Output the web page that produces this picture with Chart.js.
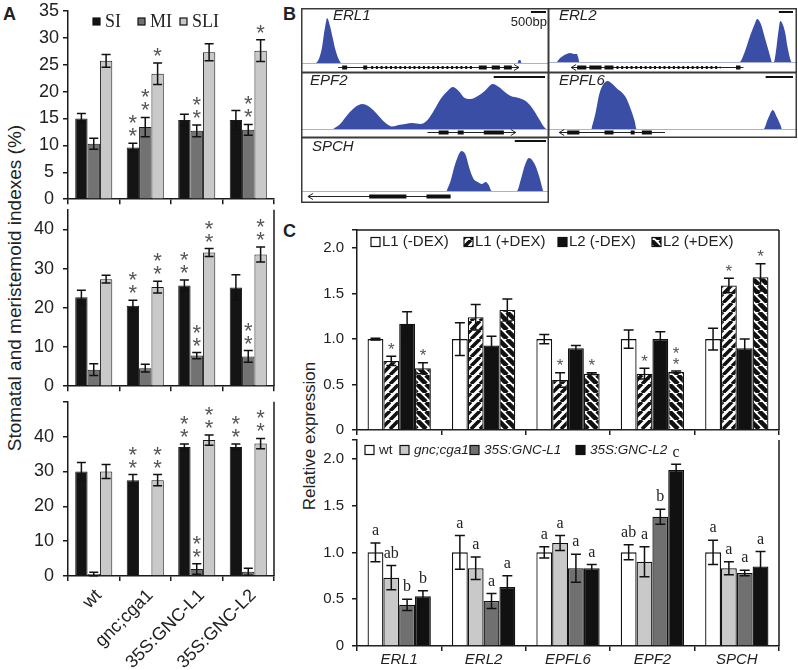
<!DOCTYPE html>
<html>
<head>
<meta charset="utf-8">
<script src="https://cdn.jsdelivr.net/npm/chart.js@4.4.0/dist/chart.umd.min.js"></script>
<style>
  body { margin: 0; background: #fff; }
  #fig { position: relative; width: 798px; height: 670px; overflow: hidden; background: #fff;
         font-family: 'Liberation Sans', Arial, sans-serif; color: #222; }
  #fig canvas { position: absolute; }
  .plab { position: absolute; font-weight: bold; font-size: 18px; line-height: 18px; }
  .ytitle { position: absolute; white-space: nowrap; transform: translate(-50%, -50%) rotate(-90deg); }
</style>
</head>
<body>
<div id="fig">
  <div class="plab" style="left:3px; top:5px;">A</div>
  <div class="plab" style="left:283px; top:5px;">B</div>
  <div class="plab" style="left:283px; top:222px;">C</div>
  <div class="ytitle" style="left:15px; top:288px; font-size:19px;">Stomatal and meristemoid indexes (%)</div>
  <div class="ytitle" style="left:310px; top:436px; font-size:17px;">Relative expression</div>
</div>
<script>
// ---- panel A : stomatal / meristemoid / stomatal lineage indexes
const genotypes = ['wt', 'gnc;cga1', '35S:GNC-L1', '35S:GNC-L2'];

const siTop = [15.0, 9.6, 14.7, 14.7];
const siTopErr = [0.9, 0.8, 1.1, 1.8];
const siTopSig = ['', '**', '', ''];
const miTop = [10.3, 13.4, 12.7, 12.9];
const miTopErr = [1.0, 1.8, 1.1, 1.0];
const miTopSig = ['', '**', '**', '**'];
const sliTop = [25.7, 23.3, 27.3, 27.6];
const sliTopErr = [1.2, 2.0, 1.6, 2.0];
const sliTopSig = ['', '*', '', '*'];

const siMid = [22.7, 20.5, 25.7, 25.2];
const siMidErr = [1.8, 1.4, 1.4, 3.2];
const siMidSig = ['', '**', '**', ''];
const miMid = [4.2, 4.6, 7.8, 7.6];
const miMidErr = [1.5, 1.0, 0.8, 1.5];
const miMidSig = ['', '', '**', '**'];
const sliMid = [27.3, 25.3, 34.1, 33.6];
const sliMidErr = [1.0, 1.5, 1.0, 1.9];
const sliMidSig = ['', '**', '**', '**'];

const siBot = [30.0, 27.5, 37.0, 37.0];
const siBotErr = [2.6, 1.6, 0.9, 0.9];
const siBotSig = ['', '**', '**', '**'];
const miBot = [0.6, 0, 2.0, 1.2];
const miBotErr = [0.5, 0, 1.5, 1.0];
const miBotSig = ['', '', '**', ''];
const sliBot = [30.0, 27.5, 39.0, 38.0];
const sliBotErr = [2.0, 1.6, 1.5, 1.5];
const sliBotSig = ['', '**', '**', '**'];

// ---- panel C : qRT-PCR
const genesC = ['ERL1', 'ERL2', 'EPFL6', 'EPF2', 'SPCH'];
const l1Minus = [1.00, 1.00, 1.00, 1.00, 1.00];
const l1MinusErr = [0.01, 0.18, 0.05, 0.10, 0.12];
const l1Plus = [0.76, 1.24, 0.55, 0.62, 1.59];
const l1PlusErr = [0.05, 0.14, 0.08, 0.06, 0.08];
const l1PlusSig = ['*', '', '*', '*', '*'];
const l2Minus = [1.17, 0.93, 0.90, 1.00, 0.90];
const l2MinusErr = [0.13, 0.10, 0.03, 0.08, 0.10];
const l2Plus = [0.68, 1.32, 0.62, 0.64, 1.68];
const l2PlusErr = [0.06, 0.12, 0.01, 0.01, 0.15];
const l2PlusSig = ['*', '', '*', '**', '*'];

const wtC = [1.00, 1.00, 1.00, 1.00, 1.00];
const wtCErr = [0.10, 0.18, 0.06, 0.08, 0.13];
const wtCLet = ['a', 'a', 'a', 'ab', 'a'];
const gncC = [0.73, 0.83, 1.10, 0.90, 0.83];
const gncCErr = [0.13, 0.12, 0.08, 0.16, 0.07];
const gncCLet = ['ab', 'a', 'a', 'a', 'a'];
const gncL1C = [0.44, 0.48, 0.83, 1.38, 0.78];
const gncL1CErr = [0.06, 0.08, 0.15, 0.08, 0.03];
const gncL1CLet = ['b', 'a', 'a', 'b', 'a'];
const gncL2C = [0.53, 0.63, 0.83, 1.88, 0.85];
const gncL2CErr = [0.06, 0.12, 0.04, 0.06, 0.16];
const gncL2CLet = ['b', 'a', 'a', 'c', 'a'];

// ---- panel B : coverage tracks (position in % of window, read height)
const erl1Pos = [6.0, 6.5, 7.5, 8.5, 9.3, 10.0, 10.5, 11.0, 11.8, 12.8, 13.8, 14.8, 15.8, 16.3, 87.3, 87.8, 88.4, 88.9];
const erl1Cov = [0, 1, 6, 16, 30, 40, 45, 43, 36, 25, 14, 6, 1, 0, 0, 3, 3, 0];
const erl2Pos = [3.6, 4.5, 6.0, 7.5, 9.0, 10.5, 11.5, 12.2, 12.6, 76.9, 79.0, 81.0, 83.0, 84.0, 85.5, 87.0, 88.5, 89.5, 89.9, 90.7, 91.5, 92.5, 93.3, 94.2, 95.2, 96.2, 97.4, 97.8];
const erl2Cov = [0, 3, 6, 8, 9, 8, 8, 4, 0, 0, 10, 25, 38, 43, 38, 25, 12, 3, 0, 0, 10, 30, 41, 38, 30, 15, 2, 0];
const epf2Pos = [13.0, 15.8, 19.0, 21.9, 24.7, 27.1, 29.9, 32.8, 35.2, 36.8, 39.3, 42.1, 44.9, 48.2, 50.6, 53.0, 56.3, 59.1, 61.1, 63.6, 66.0, 68.4, 71.3, 74.1, 77.3, 79.8, 82.2, 84.6, 87.9, 91.1, 93.5, 96.0, 98.0, 98.8];
const epf2Cov = [0, 5, 15, 22, 25, 23, 17, 9, 4, 2.5, 4, 5, 6, 5, 8, 16, 30, 38, 42, 38, 31, 30, 33, 38, 45, 42, 37, 33, 31, 27, 20, 10, 2, 0];
const epfl6Pos = [17.4, 19.0, 20.6, 22.3, 23.9, 25.9, 27.9, 29.9, 31.6, 33.2, 34.8, 35.6, 86.6, 88.3, 90.3, 91.9, 93.5, 93.9];
const epfl6Cov = [0, 15, 35, 45, 48, 45, 40, 36, 30, 20, 8, 0, 0, 10, 19, 12, 3, 0];
const spchPos = [58.7, 60.3, 62.3, 64.8, 66.4, 68.0, 69.6, 71.3, 72.9, 74.5, 75.7, 76.9, 87.0, 88.7, 90.3, 91.9, 94.0, 96.0, 97.6];
const spchCov = [0, 10, 28, 40, 36, 22, 12, 9, 7, 9, 6, 0, 0, 12, 26, 33, 28, 15, 0];

// gene models (% of window)
const erl1Exons = [[16.6, 18.6], [25.1, 26.7], [71.7, 74.9], [76.9, 80.2], [81.8, 85.0]];
const erl2Exons = [[11.7, 15.4], [16.6, 21.5], [22.7, 26.3], [75.5, 77.3]];
const epf2Exons = [[55.5, 59.5], [63.2, 65.6], [73.7, 81.8]];
const epfl6Exons = [[7.7, 12.6], [22.7, 26.3], [33.2, 34.8], [37.7, 41.7]];
const spchExons = [[27.5, 42.5], [50.6, 60.3]];

Chart.defaults.font.family = "'Liberation Sans', Arial, sans-serif";
Chart.defaults.color = '#222';
Chart.defaults.animation = false;
Chart.defaults.responsive = false;
Chart.defaults.maintainAspectRatio = false;
Chart.defaults.plugins.legend.display = false;
Chart.defaults.plugins.tooltip.enabled = false;

const AX = '#1a1a1a';
const fig = document.getElementById('fig');

function addCanvas(x, y, w, h) {
  const c = document.createElement('canvas');
  c.width = w; c.height = h;
  c.style.left = x + 'px'; c.style.top = y + 'px';
  c.style.width = w + 'px'; c.style.height = h + 'px';
  fig.appendChild(c);
  return c.getContext('2d');
}

// error bars + significance marks above them
const errorBars = {
  id: 'errorBars',
  afterDatasetsDraw(chart, args, o) {
    const ctx = chart.ctx, y = chart.scales.y;
    chart.data.datasets.forEach((ds, i) => {
      if (!ds.errors) return;
      chart.getDatasetMeta(i).data.forEach((bar, j) => {
        const v = ds.data[j], e = ds.errors[j];
        const top = y.getPixelForValue(v + e);
        ctx.save();
        if (e > 0) {
          const bot = y.getPixelForValue(Math.max(0, v - e));
          ctx.strokeStyle = o.color; ctx.lineWidth = o.width;
          ctx.beginPath();
          ctx.moveTo(bar.x, top); ctx.lineTo(bar.x, bot);
          ctx.moveTo(bar.x - o.cap, top); ctx.lineTo(bar.x + o.cap, top);
          ctx.moveTo(bar.x - o.cap, bot); ctx.lineTo(bar.x + o.cap, bot);
          ctx.stroke();
        }
        const m = ds.marks && ds.marks[j];
        if (m) {
          ctx.font = o.font; ctx.fillStyle = o.markColor;
          ctx.textAlign = 'center'; ctx.textBaseline = 'middle';
          if (o.stack) {
            for (let k = 0; k < m.length; k++) ctx.fillText(m[k], bar.x, top - o.gap - k * o.step);
          } else {
            ctx.fillText(m, bar.x, top - o.gap);
          }
        }
        ctx.restore();
      });
    });
  }
};

// extra frame edges (top / right) of the plot box
const frame = {
  id: 'frame',
  afterDraw(chart, args, o) {
    const a = chart.chartArea, ctx = chart.ctx;
    ctx.save();
    ctx.strokeStyle = AX; ctx.lineWidth = 1.5;
    ctx.beginPath();
    if (o.top) { ctx.moveTo(a.left, a.top); ctx.lineTo(a.right, a.top); }
    if (o.right) { ctx.moveTo(a.right, a.top); ctx.lineTo(a.right, a.bottom); }
    ctx.stroke();
    ctx.restore();
  }
};

// legend with boxes drawn inside the plot
const boxLegend = {
  id: 'boxLegend',
  afterDraw(chart, args, o) {
    if (!o.xs) return;
    const ctx = chart.ctx;
    ctx.save();
    chart.data.datasets.forEach((ds, i) => {
      const x = o.xs[i], y = o.y, b = o.box;
      ctx.fillStyle = ds.backgroundColor;
      ctx.fillRect(x, y - b / 2, b, b);
      ctx.strokeStyle = '#111'; ctx.lineWidth = 1.2;
      ctx.strokeRect(x, y - b / 2, b, b);
      ctx.font = (o.italic && o.italic[i] ? 'italic ' : '') + o.size + 'px ' + o.family;
      ctx.fillStyle = '#222'; ctx.textBaseline = 'middle'; ctx.textAlign = 'left';
      ctx.fillText(ds.label, x + b + o.gap, y + (o.dy || 0));
    });
    ctx.restore();
  }
};

function yAxis(max, step, size, labelFn, width, pad, cross) {
  return {
    min: 0, max: max,
    ticks: { stepSize: step, font: { size: size }, color: '#222', padding: pad, callback: labelFn, crossAlign: cross || 'near' },
    grid: { drawOnChartArea: false, drawTicks: true, tickLength: 5, color: AX, lineWidth: 1.5 },
    border: { color: AX, width: 1.5 },
    afterFit: s => { s.width = width; }
  };
}
function xAxis(height, ticks) {
  return {
    ticks: ticks || { display: false },
    grid: { drawOnChartArea: false, drawTicks: true, tickLength: 5, color: AX, lineWidth: 1.5, offset: true },
    border: { color: AX, width: 1.5 },
    afterFit: s => { s.height = height; }
  };
}

function aSets(si, siE, siS, mi, miE, miS, sli, sliE, sliS) {
  return [
    { label: 'SI', data: si, errors: siE, marks: siS, backgroundColor: '#141414' },
    { label: 'MI', data: mi, errors: miE, marks: miS, backgroundColor: '#727272' },
    { label: 'SLI', data: sli, errors: sliE, marks: sliS, backgroundColor: '#c9c9c9' }
  ].map(d => Object.assign(d, { borderColor: '#1a1a1a', borderWidth: 1 }));
}

const errA = { color: '#111', width: 1.5, cap: 4.5, font: "22px 'Liberation Sans'", markColor: '#555', gap: 6, step: 13, stack: true };

function panelA(ctx, sets, ymax, labelFn, cross, pad, xs, plugOpts) {
  return new Chart(ctx, {
    type: 'bar',
    data: { labels: genotypes, datasets: sets },
    options: {
      layout: { padding: { top: 12, right: 11, left: 0, bottom: 0 }, autoPadding: false },
      datasets: { bar: { categoryPercentage: 0.72, barPercentage: 1 } },
      scales: { x: xs, y: yAxis(ymax, 5, 18, labelFn, 68, pad, cross) },
      plugins: Object.assign({ errorBars: errA }, plugOpts)
    },
    plugins: [errorBars, frame, boxLegend]
  });
}

// A top
panelA(addCanvas(0, -4, 285, 218),
  aSets(siTop, siTopErr, siTopSig, miTop, miTopErr, miTopSig, sliTop, sliTopErr, sliTopSig),
  35, v => v, 'center', 4, xAxis(12),
  { frame: {}, boxLegend: { xs: [93, 138, 180], y: 25.5, box: 7, gap: 5, size: 18, family: "'Liberation Serif'", dy: 1 } });
// A middle
panelA(addCanvas(0, 190, 285, 216),
  aSets(siMid, siMidErr, siMidSig, miMid, miMidErr, miMidSig, sliMid, sliMidErr, sliMidSig),
  45, v => (v % 10 === 0 ? v : ''), 'near', 9, xAxis(12),
  { frame: { right: true }, boxLegend: {} });
// A bottom
panelA(addCanvas(0, 382, 285, 288),
  aSets(siBot, siBotErr, siBotSig, miBot, miBotErr, miBotSig, sliBot, sliBotErr, sliBotSig),
  50, v => (v % 10 === 0 && v <= 40 ? v : ''), 'near', 9,
  xAxis(94, { font: { size: 18 }, minRotation: 45, maxRotation: 45, padding: 4, labelOffset: 5, color: '#222' }),
  { frame: { right: true }, boxLegend: {} });

// ---- panel C
function stripes(ctx, dir, w) {
  const s = 9, c = document.createElement('canvas');
  c.width = s; c.height = s;
  const g = c.getContext('2d');
  g.fillStyle = '#fff'; g.fillRect(0, 0, s, s);
  g.strokeStyle = '#111'; g.lineWidth = w;
  g.beginPath();
  for (const k of [-s, 0, s]) {
    if (dir > 0) { g.moveTo(k, s); g.lineTo(k + s, 0); }
    else { g.moveTo(k, 0); g.lineTo(k + s, s); }
  }
  g.stroke();
  return ctx.createPattern(c, 'repeat');
}

const cLabel = v => (v === 0 ? '0' : (Math.abs(v * 2 - Math.round(v * 2)) < 1e-6 ? v.toFixed(1) : ''));

function panelC(ctx, sets, xs, plugOpts) {
  return new Chart(ctx, {
    type: 'bar',
    data: { labels: genesC, datasets: sets },
    options: {
      layout: { padding: { top: 12, right: 11, left: 0, bottom: 0 }, autoPadding: false },
      datasets: { bar: { categoryPercentage: 0.75, barPercentage: 1 } },
      scales: { x: xs, y: yAxis(2.2, 0.5, 15, cLabel, 57, 8, 'near') },
      plugins: plugOpts
    },
    plugins: [errorBars, frame, boxLegend]
  });
}

const ctxC1 = addCanvas(300, 213, 490, 234);
const cBorder = { borderColor: '#111', borderWidth: 1.3 };
panelC(ctxC1, [
  Object.assign({ label: 'L1 (-DEX)', data: l1Minus, errors: l1MinusErr, backgroundColor: '#ffffff' }, cBorder),
  Object.assign({ label: 'L1 (+DEX)', data: l1Plus, errors: l1PlusErr, marks: l1PlusSig, backgroundColor: stripes(ctxC1, 1, 3.6) }, cBorder),
  Object.assign({ label: 'L2 (-DEX)', data: l2Minus, errors: l2MinusErr, backgroundColor: '#111111' }, cBorder),
  Object.assign({ label: 'L2 (+DEX)', data: l2Plus, errors: l2PlusErr, marks: l2PlusSig, backgroundColor: stripes(ctxC1, -1, 4.6) }, cBorder)
], xAxis(12), {
  errorBars: { color: '#111', width: 1.5, cap: 5, font: "17px 'Liberation Sans'", markColor: '#555', gap: 6, step: 11, stack: true },
  frame: { top: true, right: true },
  boxLegend: { xs: [71, 164, 258, 352], y: 29, box: 9, gap: 2, size: 15, family: "'Liberation Sans'" }
});

const ctxC2 = addCanvas(300, 423, 490, 247);
panelC(ctxC2, [
  Object.assign({ label: 'wt', data: wtC, errors: wtCErr, marks: wtCLet, backgroundColor: '#ffffff' }, cBorder),
  Object.assign({ label: 'gnc;cga1', data: gncC, errors: gncCErr, marks: gncCLet, backgroundColor: '#c9c9c9' }, cBorder),
  Object.assign({ label: '35S:GNC-L1', data: gncL1C, errors: gncL1CErr, marks: gncL1CLet, backgroundColor: '#707070' }, cBorder),
  Object.assign({ label: '35S:GNC-L2', data: gncL2C, errors: gncL2CErr, marks: gncL2CLet, backgroundColor: '#111111' }, cBorder)
], xAxis(24, { font: { size: 15, style: 'italic' }, padding: 0, color: '#222' }), {
  errorBars: { color: '#111', width: 1.5, cap: 5, font: "16px 'Liberation Serif'", markColor: '#222', gap: 12, step: 0, stack: false },
  frame: { right: true },
  boxLegend: { xs: [65, 100, 170, 276], y: 27, box: 9, gap: 5, size: 13.5, family: "'Liberation Sans'", italic: [false, true, true, true] }
});

// ---- panel B
const trackPlugin = {
  id: 'track',
  afterDraw(chart, args, o) {
    const ctx = chart.ctx, xs = chart.scales.x, a = chart.chartArea;
    const W = chart.width, H = chart.height;
    const px = v => xs.getPixelForValue(v);
    ctx.save();
    ctx.strokeStyle = '#aab0d8'; ctx.lineWidth = 1;
    ctx.beginPath(); ctx.moveTo(0, a.bottom + 0.5); ctx.lineTo(W, a.bottom + 0.5); ctx.stroke();
    // gene model
    const gy = o.geneY;
    ctx.strokeStyle = '#222'; ctx.lineWidth = 1;
    ctx.beginPath(); ctx.moveTo(px(o.from), gy); ctx.lineTo(px(o.to), gy); ctx.stroke();
    const tip = o.dir > 0 ? px(o.to) : px(o.from);
    ctx.beginPath(); ctx.moveTo(tip - 5 * o.dir, gy - 3); ctx.lineTo(tip, gy); ctx.lineTo(tip - 5 * o.dir, gy + 3); ctx.stroke();
    ctx.fillStyle = '#111';
    o.exons.forEach(e => ctx.fillRect(px(e[0]), gy - 2, px(e[1]) - px(e[0]), 4));
    if (o.dots) {
      ctx.setLineDash([2, 2.7]); ctx.lineWidth = 3; ctx.strokeStyle = '#111';
      ctx.beginPath(); ctx.moveTo(px(o.dots[0]), gy); ctx.lineTo(px(o.dots[1]), gy); ctx.stroke();
      ctx.setLineDash([]);
    }
    // 500 bp scale bar
    ctx.strokeStyle = '#111'; ctx.lineWidth = 2;
    ctx.beginPath(); ctx.moveTo(px(o.bar[0]), o.barY); ctx.lineTo(px(o.bar[1]), o.barY); ctx.stroke();
    ctx.fillStyle = '#222';
    if (o.bp) {
      ctx.font = "13px 'Liberation Sans'"; ctx.textAlign = 'right'; ctx.textBaseline = 'alphabetic';
      ctx.fillText(o.bp, px(o.bar[1]) + 1, 18);
    }
    ctx.font = "italic 15px 'Liberation Sans'"; ctx.textAlign = 'left'; ctx.textBaseline = 'middle';
    ctx.fillText(o.label, o.lx, o.ly);
    ctx.strokeStyle = '#3a3a3a'; ctx.lineWidth = 1.5;
    ctx.strokeRect(0.75, 0.75, W - 1.5, H - 1.5);
    ctx.restore();
  }
};

const tracks = [
  { pos: erl1Pos, cov: erl1Cov, x: 301, y: 8, w: 248, h: 65, pt: 4, pb: 10,
    o: { label: 'ERL1', lx: 32, ly: 8, geneY: 59.5, from: 15.0, to: 87.9, dir: 1, exons: erl1Exons, dots: [28.3, 70.0], bar: [92.7, 98.8], barY: 4, bp: '500bp' } },
  { pos: epf2Pos, cov: epf2Cov, x: 301, y: 72, w: 248, h: 66, pt: 4, pb: 9,
    o: { label: 'EPF2', lx: 9, ly: 9, geneY: 60.5, from: 51.0, to: 86.6, dir: 1, exons: epf2Exons, bar: [77.7, 98.4], barY: 5 } },
  { pos: spchPos, cov: spchCov, x: 301, y: 137, w: 248, h: 66, pt: 4, pb: 12,
    o: { label: 'SPCH', lx: 11, ly: 10, geneY: 59.5, from: 2.8, to: 60.3, dir: -1, exons: spchExons, bar: [86.2, 98.8], barY: 4 } },
  { pos: erl2Pos, cov: erl2Cov, x: 548, y: 8, w: 249, h: 65, pt: 4, pb: 11,
    o: { label: 'ERL2', lx: 11, ly: 8, geneY: 59.5, from: 9.3, to: 78.5, dir: -1, exons: erl2Exons, dots: [27.5, 69.2], bar: [92.7, 98.4], barY: 4 } },
  { pos: epfl6Pos, cov: epfl6Cov, x: 548, y: 72, w: 249, h: 66, pt: 4, pb: 9,
    o: { label: 'EPFL6', lx: 11, ly: 9, geneY: 60.5, from: 4.5, to: 47.0, dir: -1, exons: epfl6Exons, bar: [87.4, 98.4], barY: 5 } }
];

tracks.forEach(t => {
  const area = t.h - t.pt - t.pb;
  new Chart(addCanvas(t.x, t.y, t.w, t.h), {
    type: 'line',
    data: { datasets: [{
      data: t.pos.map((x, i) => ({ x: x, y: t.cov[i] })),
      fill: 'origin', backgroundColor: '#3b4ea6', borderWidth: 0, pointRadius: 0,
      cubicInterpolationMode: 'monotone'
    }] },
    options: {
      layout: { padding: { top: t.pt, bottom: t.pb, left: 0, right: 0 }, autoPadding: false },
      scales: {
        x: { type: 'linear', min: 0, max: 100, display: false },
        y: { min: 0, max: area, display: false }
      },
      plugins: { track: t.o }
    },
    plugins: [trackPlugin]
  });
});
</script>
</body>
</html>
